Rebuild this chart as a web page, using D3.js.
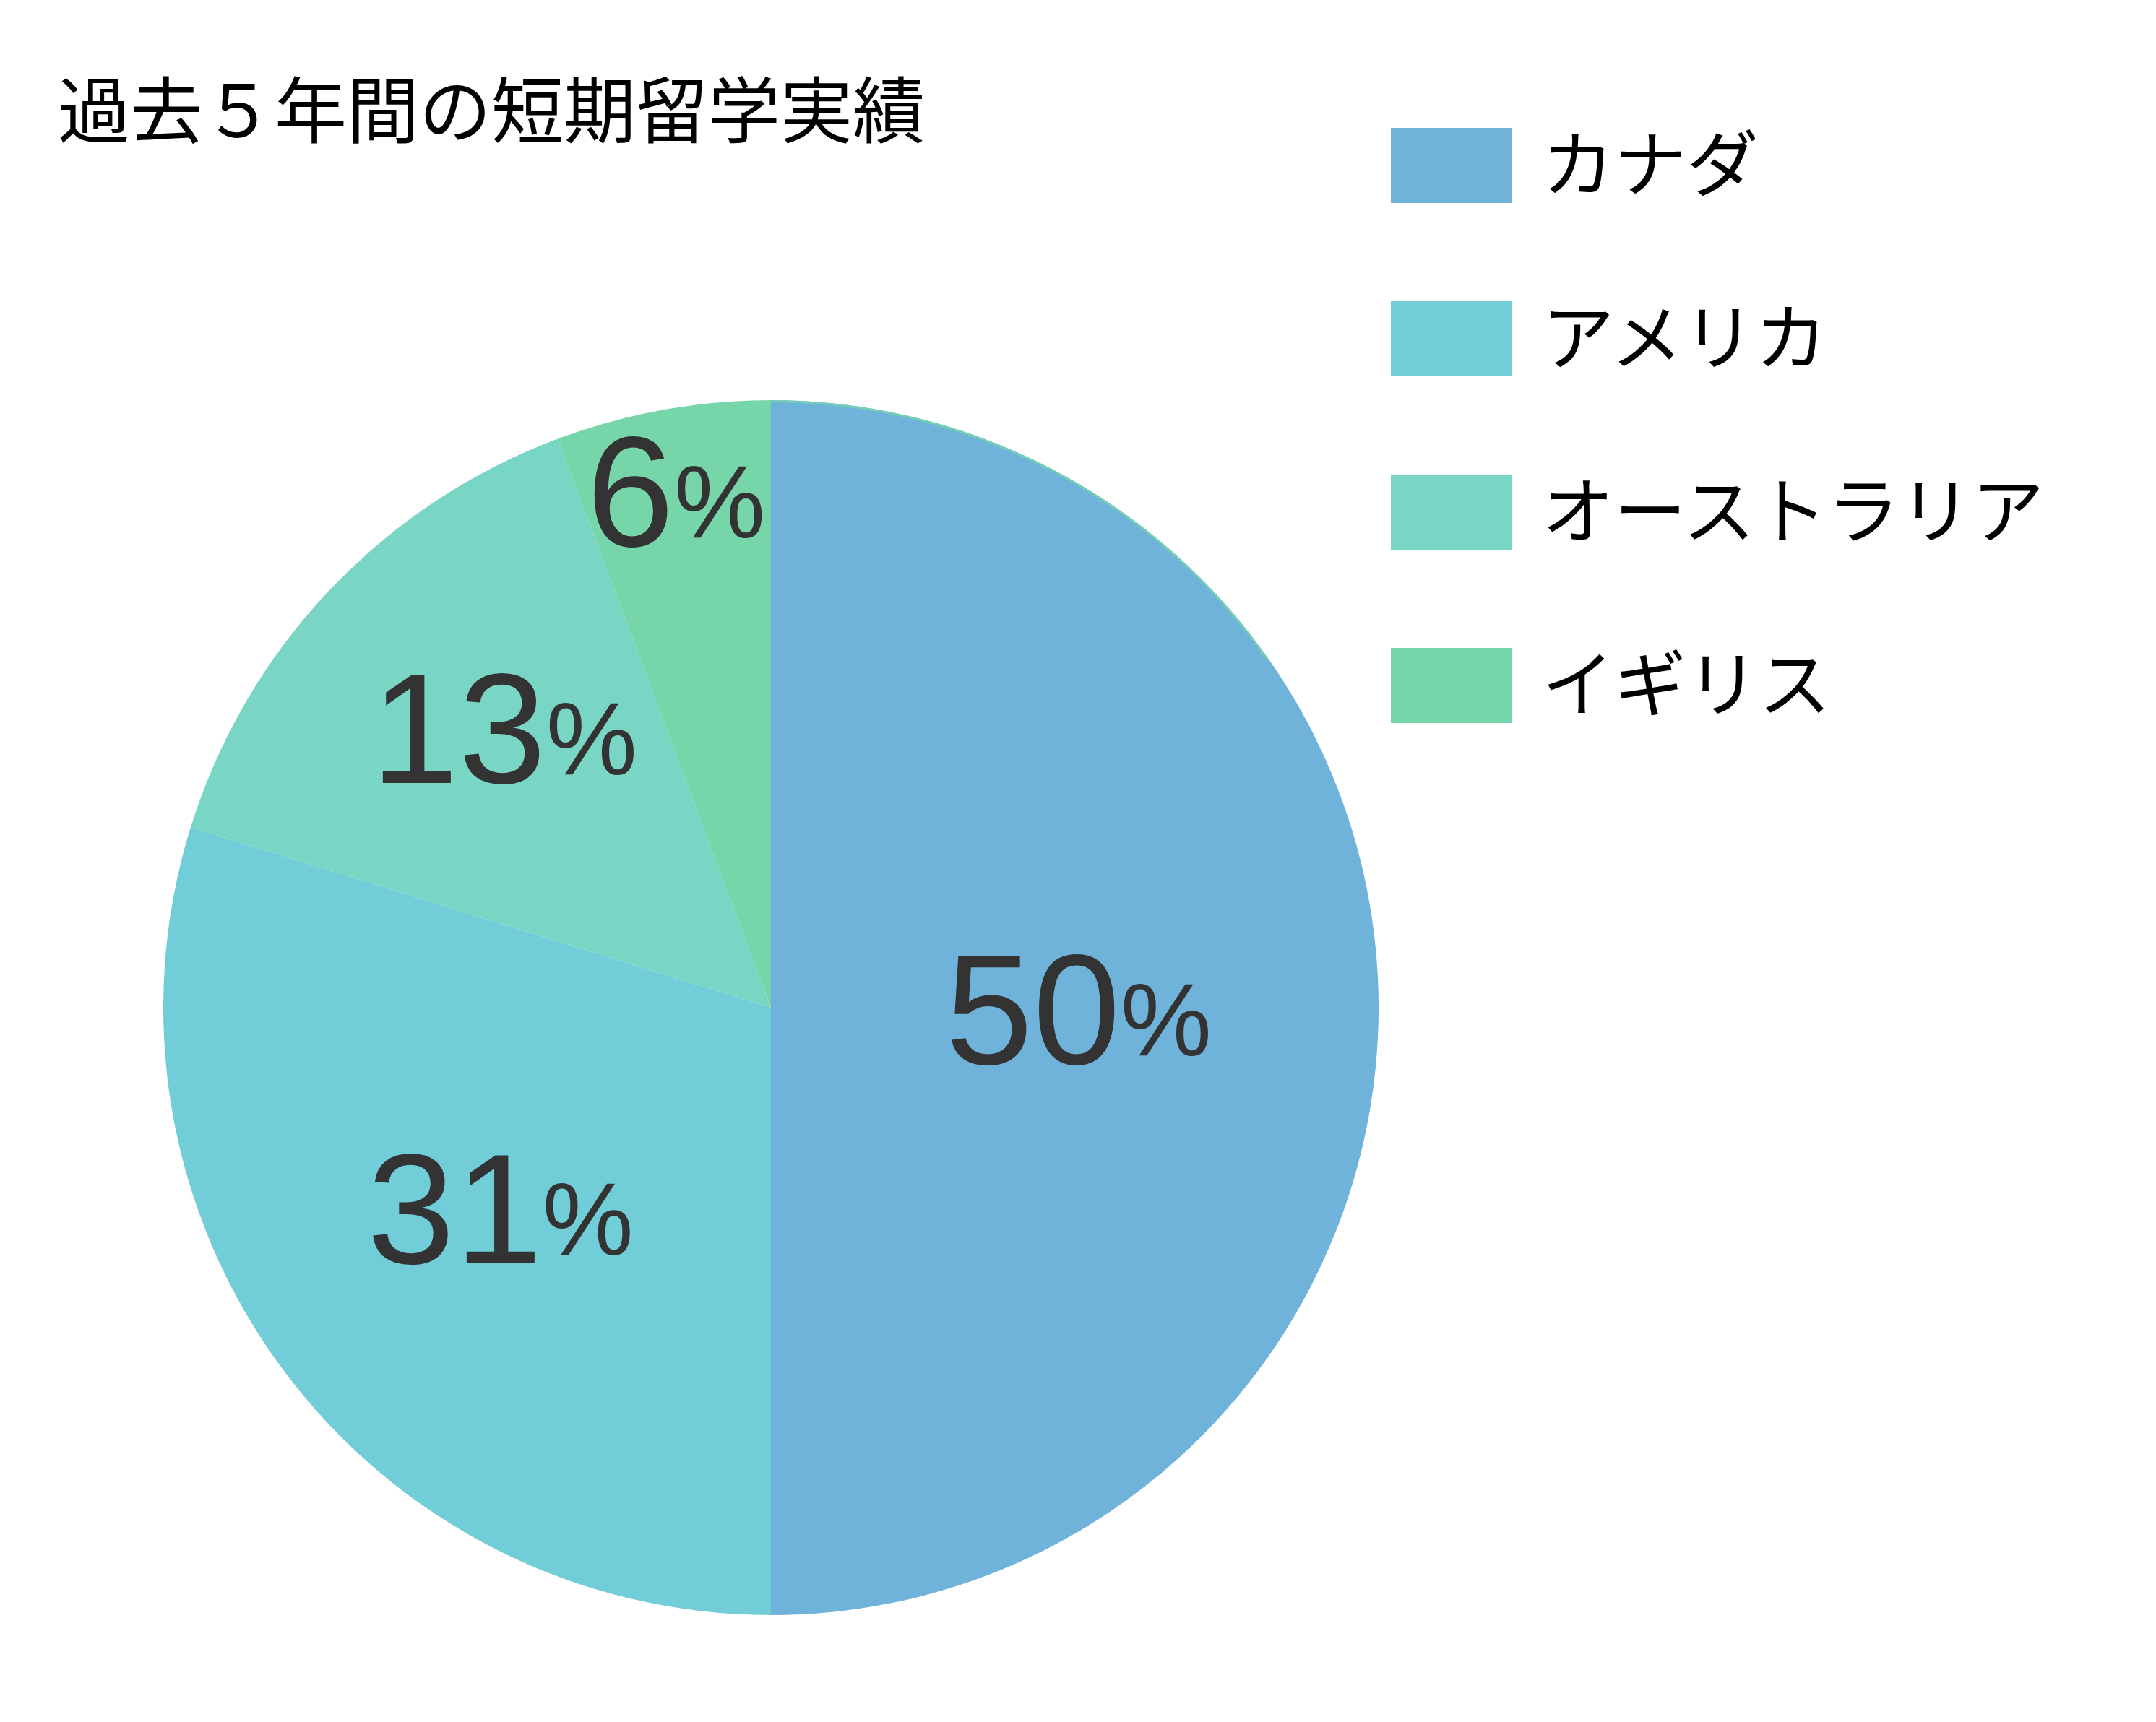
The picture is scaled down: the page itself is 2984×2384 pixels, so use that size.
<!DOCTYPE html>
<html>
<head>
<meta charset="utf-8">
<script src="https://cdn.jsdelivr.net/npm/d3@7"></script>
<style>
  html, body { margin: 0; padding: 0; background: #ffffff; }
  svg { display: block; }
</style>
</head>
<body>
<script>
// ---- data ----
const title = "過去５年間の短期留学実績";
const categories = ["カナダ", "アメリカ", "オーストラリア", "イギリス"];
const shares = [50, 29.8, 14.5, 5.7];          // slice sizes as drawn
const labelNumbers = ["50", "31", "13", "6"];   // printed labels
const colors = ["#6fb3da", "#71cdd7", "#79d5c4", "#77d5aa"];

// ---- layout ----
const W = 2984, H = 2384;
const cx = 1067, cy = 1395, R = 841;
const labelRadiusFactor = [0.506, 0.553, 0.638, 0.861];
const labelAngleShiftDeg = [0, 0, 3.1, -0.2];
const labelYShift = [0, 0, 0, -5];

const svg = d3.select("body").append("svg")
  .attr("width", W).attr("height", H)
  .attr("viewBox", `0 0 ${W} ${H}`);

svg.append("rect").attr("width", W).attr("height", H).attr("fill", "#ffffff");

// title
svg.append("text")
  .attr("x", 80).attr("y", 190)
  .attr("font-family", "'Noto Sans CJK JP', sans-serif")
  .attr("font-size", 100)
  .attr("fill", "#000")
  .text(title);

// pie
const rows = categories.map((c, i) => ({
  name: c, value: shares[i], label: labelNumbers[i], color: colors[i],
  lr: labelRadiusFactor[i], la: labelAngleShiftDeg[i] * Math.PI / 180, ly: labelYShift[i]
}));
const pie = d3.pie().value(d => d.value).sort(null);
const arcs = pie(rows);
const arc = d3.arc().innerRadius(0).outerRadius(R);

const g = svg.append("g").attr("transform", `translate(${cx},${cy})`);
g.selectAll("path.slice").data(arcs).join("path")
  .attr("class", "slice")
  .attr("d", arc)
  .attr("fill", d => d.data.color);

// faint rim of the last slice's colour showing along the first slice's upper edge
const rim = d3.arc().innerRadius(R - 3).outerRadius(R)
  .startAngle(0).endAngle(55 * Math.PI / 180);
g.append("path").attr("d", rim()).attr("fill", colors[3]).attr("opacity", 0.8);

// labels
const lab = g.selectAll("text.lab").data(arcs).join("text")
  .attr("class", "lab")
  .attr("font-family", "'Liberation Sans', Arial, Helvetica, sans-serif")
  .attr("fill", "#333333")
  .attr("text-anchor", "middle")
  .attr("transform", d => {
    const a = (d.startAngle + d.endAngle) / 2 + d.data.la;
    const r = R * d.data.lr;
    const x = Math.sin(a) * r;
    const y = -Math.cos(a) * r;
    return `translate(${x},${y + 78 + d.data.ly})`;
  });
lab.append("tspan").attr("font-size", 218).text(d => d.data.label);
lab.append("tspan").attr("font-size", 142).attr("dy", -12).text("%");

// legend
const legend = svg.append("g");
const items = legend.selectAll("g").data(rows).join("g")
  .attr("transform", (d, i) => `translate(1925,${177 + i * 240})`);
items.append("rect")
  .attr("width", 167).attr("height", 104)
  .attr("fill", d => d.color);
items.append("text")
  .attr("x", 209).attr("y", 87)
  .attr("font-family", "'Noto Sans CJK JP', sans-serif")
  .attr("font-size", 100)
  .attr("fill", "#000")
  .text(d => d.name);
</script>
</body>
</html>
